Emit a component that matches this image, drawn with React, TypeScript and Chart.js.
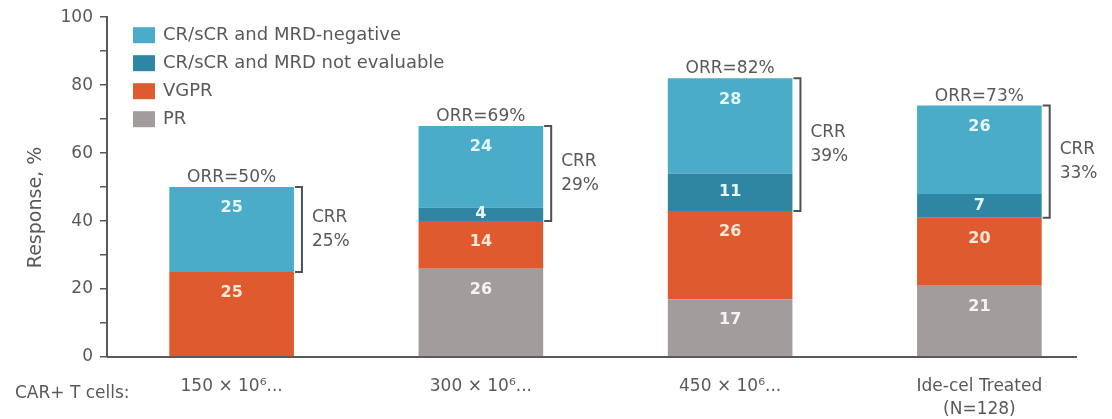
import React, { useEffect, useRef } from 'react';
import { Chart, registerables } from 'chart.js';
Chart.register(...registerables);

const categories = [['150 × 10⁶...'], ['300 × 10⁶...'], ['450 × 10⁶...'], ['Ide-cel Treated', '(N=128)']];
const prValues = [0, 26, 17, 21];
const vgprValues = [25, 14, 26, 20];
const mrdNotEvaluableValues = [0, 4, 11, 7];
const mrdNegativeValues = [25, 24, 28, 26];
const orrLabels = ['ORR=50%', 'ORR=69%', 'ORR=82%', 'ORR=73%'];
const crrLabels = ['25%', '29%', '39%', '33%'];
const yLabelTicks = [0, 20, 40, 60, 80, 100];
const xPrefix = 'CAR+ T cells:';
const yTitle = 'Response, %';

const FONT = '"DejaVu Sans", "Open Sans", sans-serif';
const TEXT = '#595959';

const overlay = {
  id: 'overlay',
  afterDatasetsDraw(chart: any) {
    const ctx = chart.ctx;
    const area = chart.chartArea;
    ctx.save();
    // baseline
    ctx.strokeStyle = '#595959';
    ctx.lineWidth = 2;
    ctx.beginPath();
    ctx.moveTo(area.left, area.bottom);
    ctx.lineTo(area.right - 27, area.bottom);
    ctx.stroke();

    // segment labels
    ctx.textAlign = 'center';
    ctx.textBaseline = 'middle';
    ctx.font = `bold 16px ${FONT}`;
    chart.data.datasets.forEach((ds: any, di: number) => {
      const meta = chart.getDatasetMeta(di);
      meta.data.forEach((el: any, i: number) => {
        const v = ds.data[i];
        if (!v) return;
        const top = Math.min(el.y, el.base);
        const bottom = Math.max(el.y, el.base);
        const cy = Math.min(top + 21, (top + bottom) / 2);
        ctx.fillStyle = ds.labelColor;
        ctx.fillText(String(v), el.x, cy);
      });
    });

    // ORR and CRR brackets
    const topMeta = chart.getDatasetMeta(3);
    const vgMeta = chart.getDatasetMeta(1);
    topMeta.data.forEach((el: any, i: number) => {
      const top = el.y;
      ctx.fillStyle = TEXT;
      ctx.font = `17px ${FONT}`;
      ctx.textAlign = 'center';
      ctx.textBaseline = 'alphabetic';
      ctx.fillText(orrLabels[i], el.x, top - 5);
      const bx = el.x + el.width / 2 + 8;
      const yb = vgMeta.data[i].y;
      ctx.strokeStyle = '#505050';
      ctx.lineWidth = 2;
      ctx.beginPath();
      ctx.moveTo(bx - 7, top);
      ctx.lineTo(bx, top);
      ctx.lineTo(bx, yb);
      ctx.lineTo(bx - 7, yb);
      ctx.stroke();
      const mid = (top + yb) / 2;
      ctx.textAlign = 'left';
      ctx.textBaseline = 'middle';
      ctx.fillText('CRR', bx + 10, mid - 12);
      ctx.fillText(crrLabels[i], bx + 10, mid + 12);
    });

    // legend
    const items = [...chart.data.datasets].reverse();
    ctx.font = `18px ${FONT}`;
    ctx.textAlign = 'left';
    ctx.textBaseline = 'middle';
    items.forEach((ds: any, k: number) => {
      const y = area.top + 18 + k * 28;
      ctx.fillStyle = ds.backgroundColor;
      ctx.fillRect(area.left + 26, y - 8, 22, 16);
      ctx.fillStyle = TEXT;
      ctx.fillText(ds.label, area.left + 56, y);
    });

    // prefix label
    ctx.fillStyle = TEXT;
    ctx.font = `17px ${FONT}`;
    ctx.textAlign = 'left';
    ctx.fillText(xPrefix, 15, area.bottom + 37);

    // y title
    ctx.translate(36, area.top + (area.bottom - area.top) * 0.56);
    ctx.rotate(-Math.PI / 2);
    ctx.font = `19px ${FONT}`;
    ctx.textAlign = 'center';
    ctx.textBaseline = 'middle';
    ctx.fillText(yTitle, 0, 0);
    ctx.restore();
  },
};

export default function App() {
  const ref = useRef<HTMLCanvasElement>(null);
  useEffect(() => {
    if (!ref.current) return;
    const chart = new Chart(ref.current, {
      type: 'bar',
      data: {
        labels: categories as any,
        datasets: [
          { label: 'PR', data: prValues, backgroundColor: '#A39C9D', labelColor: '#f4f4f4' } as any,
          { label: 'VGPR', data: vgprValues, backgroundColor: '#E05A30', labelColor: '#fde8d6' } as any,
          { label: 'CR/sCR and MRD not evaluable', data: mrdNotEvaluableValues, backgroundColor: '#2F86A2', labelColor: '#e4f6ff' } as any,
          { label: 'CR/sCR and MRD-negative', data: mrdNegativeValues, backgroundColor: '#4AACC8', labelColor: '#e4f6ff' } as any,
        ],
      },
      options: {
        responsive: false,
        animation: false,
        layout: { padding: { top: 15, right: 8, left: 0, bottom: 0 } },
        datasets: { bar: { barPercentage: 0.5, categoryPercentage: 1 } },
        plugins: { legend: { display: false }, tooltip: { enabled: false } },
        scales: {
          x: {
            stacked: true,
            grid: { display: false },
            border: { display: false },
            ticks: { color: TEXT, font: { size: 17, family: FONT, lineHeight: 1.35 }, padding: 10, maxRotation: 0, autoSkip: false },
            afterFit: (s: any) => { s.height = 62; },
          },
          y: {
            stacked: true,
            min: 0,
            max: 100,
            ticks: {
              stepSize: 10,
              color: TEXT,
              font: { size: 17, family: FONT },
              padding: 7,
              callback: (v: any) => (yLabelTicks.includes(Number(v)) ? String(v) : ''),
            },
            grid: { drawOnChartArea: false, drawTicks: true, tickLength: 7, color: '#595959', lineWidth: 1.5 },
            border: { display: true, color: '#595959', width: 2 },
            afterFit: (s: any) => { s.width = 107; },
          },
        },
      },
      plugins: [overlay],
    });
    return () => chart.destroy();
  }, []);
  return (
    <div style={{ position: 'absolute', left: 0, top: 0, width: 1112, height: 419, background: '#fff' }}>
      <canvas ref={ref} width={1112} height={419} />
    </div>
  );
}
